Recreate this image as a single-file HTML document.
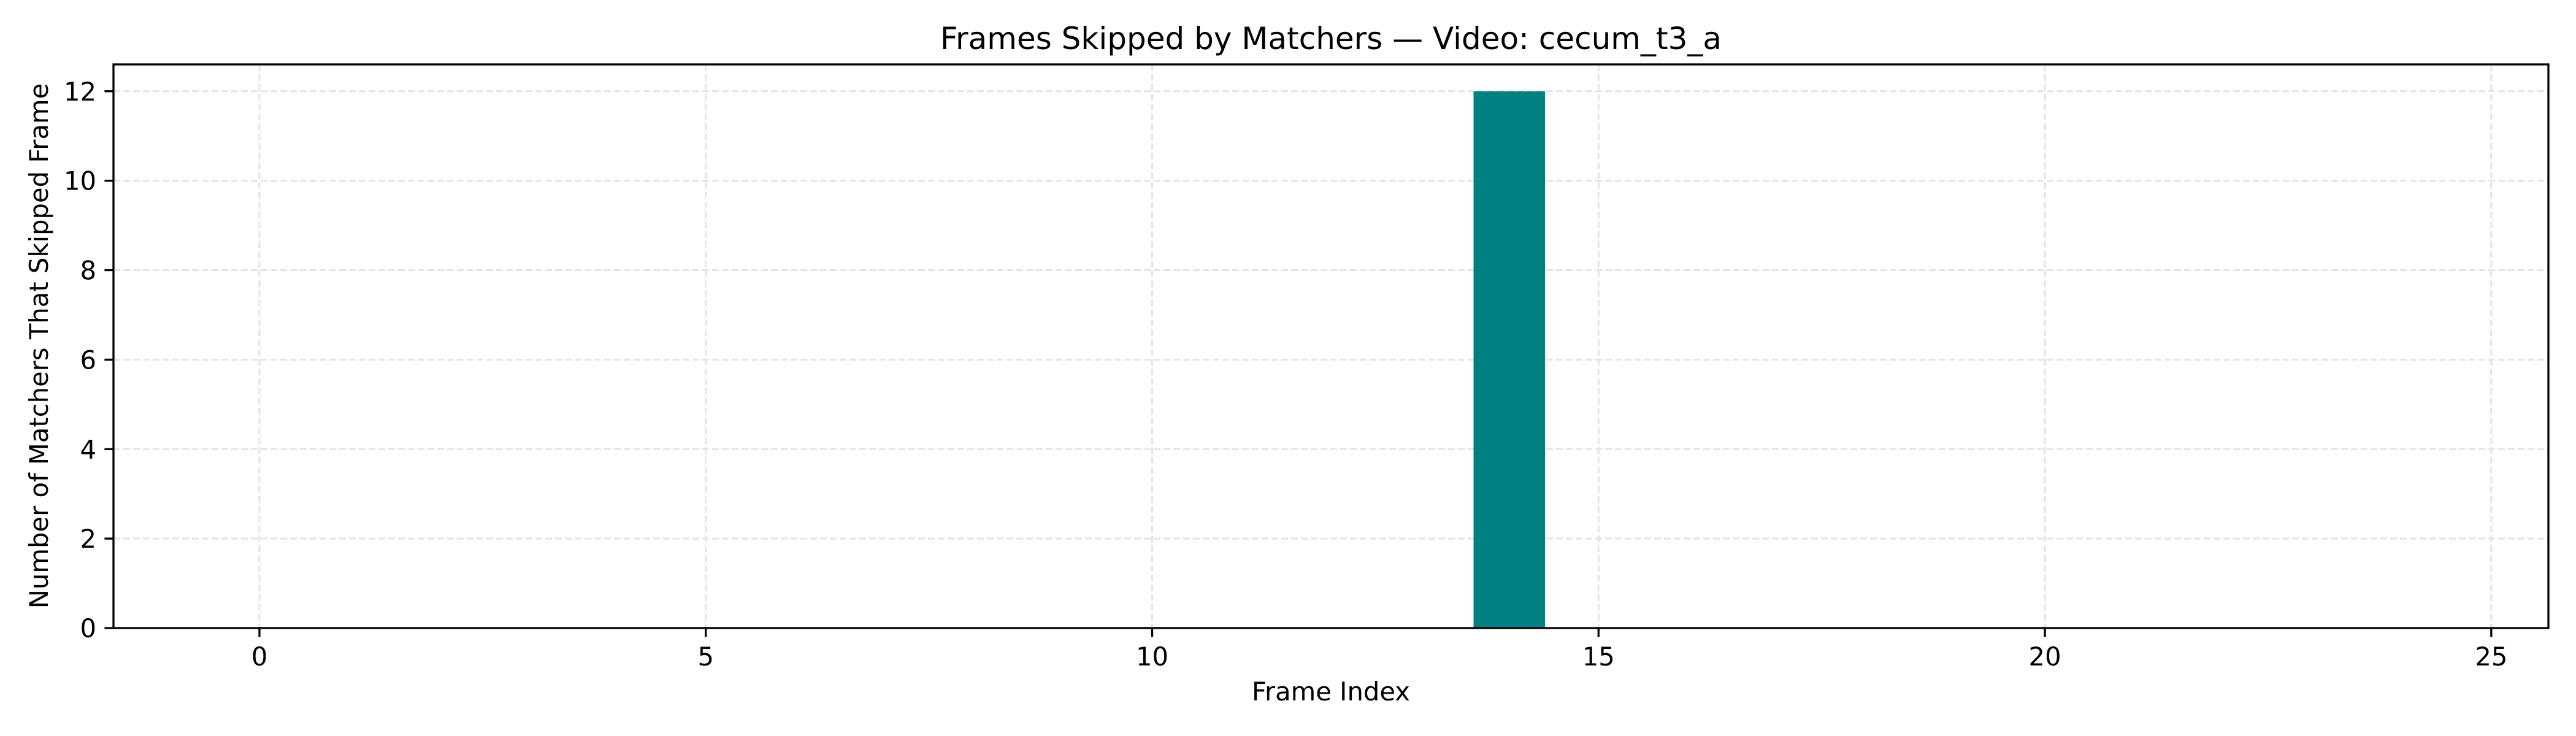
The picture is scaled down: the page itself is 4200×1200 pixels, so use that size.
<!DOCTYPE html>
<html><head><meta charset="utf-8"><style>
html,body{margin:0;padding:0;background:#fff;}
svg{display:block;font-family:"DejaVu Sans","Liberation Sans",sans-serif;}
</style></head><body>
<svg id="chart" width="4200" height="1200" xmlns="http://www.w3.org/2000/svg">
<rect width="4200" height="1200" fill="#fff"/>
<g id="grid"></g>
<g id="bars"></g>
<g id="axes"></g>
<text x="2170" y="80" font-size="50" text-anchor="middle">Frames Skipped by Matchers — Video: cecum_t3_a</text>
<text x="2170" y="1142" font-size="41.7" text-anchor="middle">Frame Index</text>
<text transform="translate(78,564) rotate(-90)" font-size="41.7" text-anchor="middle">Number of Matchers That Skipped Frame</text>
</svg>
<script>
const frames = [0,1,2,3,4,5,6,7,8,9,10,11,12,13,14,15,16,17,18,19,20,21,22,23,24,25];
const skipCounts = [0,0,0,0,0,0,0,0,0,0,0,0,0,0,12,0,0,0,0,0,0,0,0,0,0,0];
const xTicks = [0,5,10,15,20,25];
const yTicks = [0,2,4,6,8,10,12];

const L=185,R=4155,T=105,B=1024;
const xMin=-1.635,xMax=25.64,yMin=0,yMax=12.6;
const barW=0.8;
function xs(v){return L+(v-xMin)/(xMax-xMin)*(R-L);}
function ys(v){return B-(v-yMin)/(yMax-yMin)*(B-T);}
const NS="http://www.w3.org/2000/svg";
function mk(tag,attrs,parent){const e=document.createElementNS(NS,tag);for(const k in attrs)e.setAttribute(k,attrs[k]);parent.appendChild(e);return e;}
const grid=document.getElementById('grid'),bars=document.getElementById('bars'),axes=document.getElementById('axes');

xTicks.forEach(t=>{
  const g=mk('line',{x1:xs(t),x2:xs(t),y1:T,y2:B,stroke:'#e3e3e3','stroke-width':3,'stroke-dasharray':'11 5'},grid);
  
  
});
yTicks.forEach(t=>{
  const g=mk('line',{x1:L,x2:R,y1:ys(t),y2:ys(t),stroke:'#e3e3e3','stroke-width':3,'stroke-dasharray':'11 5'},grid);
  
  
});

frames.forEach((f,i)=>{
  const v=skipCounts[i];
  if(v<=0)return;
  const r=mk('rect',{x:xs(f-barW/2),y:ys(v),width:xs(f+barW/2)-xs(f-barW/2),height:ys(0)-ys(v),fill:'#008080'},bars);
  
  
});

const frame=mk('rect',{x:L,y:T,width:R-L,height:B-T,fill:'none',stroke:'#000','stroke-width':3.3},axes);



xTicks.forEach(t=>{
  const tk=mk('line',{x1:xs(t),x2:xs(t),y1:B,y2:B+14.6,stroke:'#000','stroke-width':3.3},axes);
  
  
  const lb=mk('text',{x:xs(t),y:1085,'font-size':41.7,'text-anchor':'middle'},axes);
  lb.textContent=t;
  
  
});
yTicks.forEach(t=>{
  const tk=mk('line',{x1:L-14.6,x2:L,y1:ys(t),y2:ys(t),stroke:'#000','stroke-width':3.3},axes);
  
  
  const lb=mk('text',{x:L-28,y:ys(t)+15,'font-size':41.7,'text-anchor':'end'},axes);
  lb.textContent=t;
  
  
});
</script>
</body></html>
